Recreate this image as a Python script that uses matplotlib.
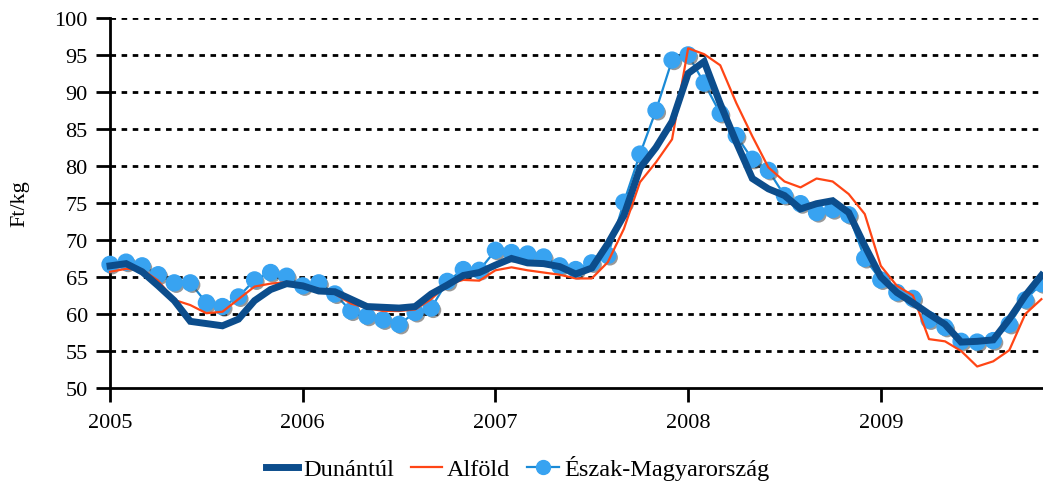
import matplotlib.pyplot as plt
import matplotlib.patheffects as pe
from matplotlib.lines import Line2D
import numpy as np

# monthly prices, Jan 2005 .. Nov 2009
years = ["2005", "2006", "2007", "2008", "2009"]

dunantul = [
    66.5, 66.8, 65.7, 63.8, 61.8, 59.0, 58.7, 58.4, 59.3, 61.8, 63.3, 64.1,
    63.8, 63.1, 63.0, 62.0, 61.0, 60.9, 60.8, 61.0, 62.7, 63.9, 65.2, 65.6,
    66.6, 67.5, 66.9, 66.8, 66.4, 65.4, 66.2, 69.5, 73.3, 79.7, 82.5, 86.0,
    92.5, 94.1, 88.4, 83.2, 78.3, 76.9, 76.0, 74.2, 74.9, 75.3, 73.7, 69.2,
    65.0, 62.9, 61.5, 60.0, 58.6, 56.2, 56.3, 56.5, 59.3, 62.5, 65.2,
]
alfold = [
    65.7, 66.1, 66.0, 64.5, 61.9, 61.2, 60.1, 60.3, 62.0, 63.7, 64.1, 64.3,
    63.9, 63.4, 62.7, 61.4, 60.8, 60.4, 60.4, 60.6, 62.0, 64.0, 64.6, 64.5,
    65.9, 66.3, 65.9, 65.6, 65.3, 64.8, 64.8, 67.0, 71.5, 77.8, 80.5, 83.6,
    95.9, 95.1, 93.6, 88.5, 84.0, 79.8, 77.9, 77.1, 78.3, 77.9, 76.2, 73.5,
    66.5, 63.8, 62.5, 56.6, 56.3, 55.0, 52.9, 53.6, 55.1, 60.0, 62.0,
]
eszak = [
    66.7, 67.0, 66.5, 65.3, 64.2, 64.2, 61.5, 61.0, 62.3, 64.6, 65.6, 65.1,
    63.8, 64.2, 62.7, 60.4, 59.7, 59.2, 58.6, 60.2, 60.8, 64.4, 66.0, 65.9,
    68.6, 68.3, 68.1, 67.7, 66.5, 66.0, 66.9, 67.9, 75.1, 81.6, 87.5, 94.3,
    95.0, 91.2, 87.1, 84.1, 80.9, 79.4, 76.0, 74.9, 73.7, 74.1, 73.4, 67.5,
    64.6, 62.9, 62.1, 59.2, 58.2, 56.3, 56.2, 56.4, 58.6, 61.9, 64.1,
]

months = np.arange(len(dunantul))

plt.rcParams["font.family"] = ["Liberation Serif", "DejaVu Serif"]

fig = plt.figure(figsize=(10.43, 4.85), dpi=100)
ax = fig.add_axes([0.1055, 0.198, 0.8945, 0.763])

for v in range(55, 101, 5):
    ax.axhline(v, color="black", linestyle=(0, (2, 2)), linewidth=2, zorder=1)

blue_line = "#1a8ad6"
blue_dot = "#38a3f1"
shadow = [pe.SimplePatchShadow(offset=(1.5, -1.5), shadow_rgbFace="#555555", alpha=0.6), pe.Normal()]
ax.plot(months, eszak, color=blue_line, linewidth=1.6, zorder=2, clip_on=False)
ax.plot(months, eszak, linestyle="none", marker="o", markersize=11.5,
        markerfacecolor=blue_dot, markeredgecolor=blue_dot,
        clip_on=False, zorder=3, path_effects=shadow)
ax.plot(months, alfold, color="#ff4515", linewidth=1.6, zorder=4, clip_on=False)
ax.plot(months, dunantul, color="#0c4d8c", linewidth=5, zorder=5,
        solid_joinstyle="miter", clip_on=False)

ax.set_xlim(0, 58.1)
ax.set_ylim(50, 100)
ax.set_yticks(range(50, 101, 5))
ax.set_xticks(range(0, len(months), 12))
ax.set_xticklabels(years)
ax.tick_params(axis="both", labelsize=16, width=2, length=10, color="black")
ax.tick_params(axis="x", pad=8)
ax.tick_params(axis="y", pad=6)
for side in ["top", "right"]:
    ax.spines[side].set_visible(False)
for side in ["left", "bottom"]:
    ax.spines[side].set_linewidth(2)
ax.set_ylabel("Ft/kg", fontsize=16, labelpad=18)

handles = [
    Line2D([], [], color="#0c4d8c", linewidth=5),
    Line2D([], [], color="#ff4515", linewidth=1.6),
    Line2D([], [], color=blue_line, linewidth=1.6, marker="o", markersize=10,
           markerfacecolor=blue_dot, markeredgecolor=blue_dot),
]
labels = ["Dunántúl", "Alföld", "Észak-Magyarország"]
ax.legend(handles, labels, loc="center", bbox_to_anchor=(0.437, -0.215), ncol=3,
          frameon=False, fontsize=17.5, handlelength=1.3, handletextpad=0.2,
          columnspacing=0.7)

fig.savefig("out.png", dpi=100)
